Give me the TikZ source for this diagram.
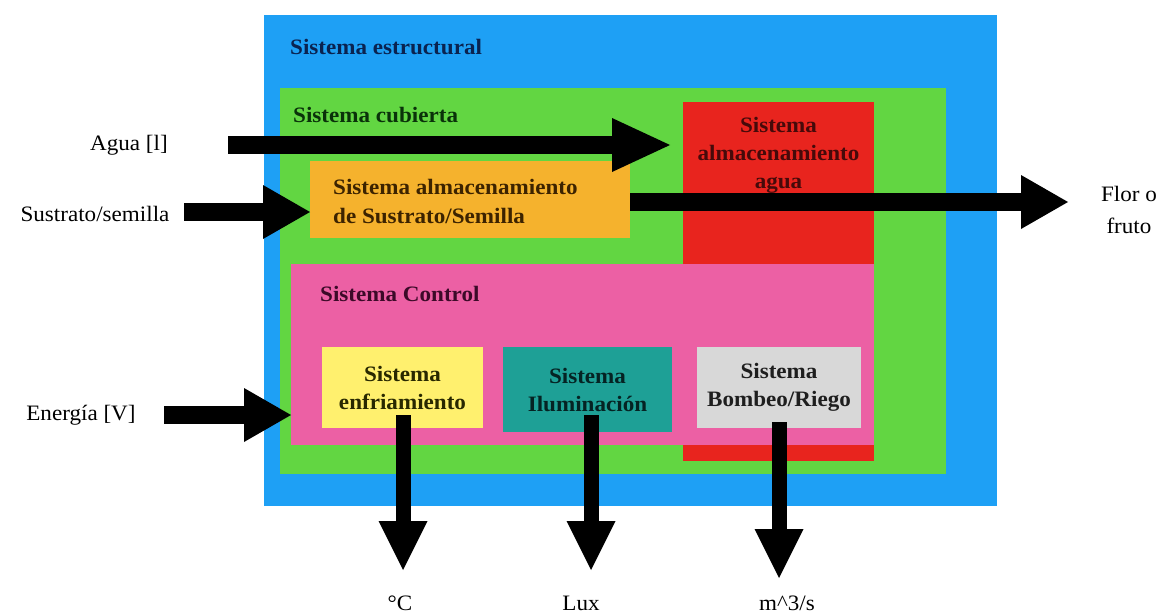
\documentclass[tikz,border=0pt]{standalone}
\usepackage{fontspec}
\setmainfont{Liberation Serif}[FakeStretch=1.05]
\usetikzlibrary{arrows.meta}
\definecolor{cblue}{RGB}{30,160,245}
\definecolor{cgreen}{RGB}{98,214,66}
\definecolor{cred}{RGB}{232,36,30}
\definecolor{corange}{RGB}{245,178,45}
\definecolor{cpink}{RGB}{236,96,164}
\definecolor{cyellow}{RGB}{255,240,110}
\definecolor{cteal}{RGB}{30,160,150}
\definecolor{cgray}{RGB}{216,216,216}
\definecolor{tblue}{RGB}{10,35,80}
\definecolor{tgreen}{RGB}{10,50,10}
\definecolor{tred}{RGB}{70,10,10}
\definecolor{torange}{RGB}{60,35,0}
\definecolor{tpink}{RGB}{60,10,40}
\definecolor{tyellow}{RGB}{40,40,0}
\definecolor{tteal}{RGB}{5,35,35}
\definecolor{tgray}{RGB}{30,30,30}
\begin{document}
\begin{tikzpicture}[x=1pt,y=-1pt,
  box/.style={draw=none,inner sep=0pt,outer sep=0pt,anchor=north west},
  lbl/.style={inner sep=0pt,align=center,font=\fontsize{22}{32}\selectfont},
  ttl/.style={inner sep=0pt,align=center,font=\fontsize{22}{28}\selectfont\bfseries},
  harrow/.style={line width=18pt,-{Triangle[length=#1,width=54pt,line width=0pt]}},
  harrow/.default=47pt,
  varrow/.style={line width=15pt,-{Triangle[length=49pt,width=49pt,line width=0pt]}}]
\useasboundingbox (0,0) rectangle (1163,616);
% boxes
\node[box,fill=cblue,minimum width=733pt,minimum height=491pt] (blue) at (264,15) {};
\node[box,fill=cgreen,minimum width=666pt,minimum height=386pt] (green) at (280,88) {};
\node[box,fill=cred,minimum width=191pt,minimum height=359pt] (red) at (683,102) {};
\node[box,fill=corange,minimum width=320pt,minimum height=77pt] (orange) at (310,161) {};
\node[box,fill=cpink,minimum width=583pt,minimum height=181pt] (pink) at (291,264) {};
\node[box,fill=cyellow,minimum width=161pt,minimum height=81pt] (yellow) at (322,347) {};
\node[box,fill=cteal,minimum width=169pt,minimum height=85pt] (teal) at (503,347) {};
\node[box,fill=cgray,minimum width=164pt,minimum height=81pt] (gray) at (697,347) {};
% box titles
\node[ttl,text=tblue,anchor=west] (tblueT) at (290,47) {Sistema estructural};
\node[ttl,text=tgreen,anchor=west] (tgreenT) at (293,115) {Sistema cubierta};
\node[ttl,text=tred] (tredT) at ([yshift=-53pt]red.north) {Sistema\\almacenamiento\\agua};
\node[ttl,text=torange,anchor=west,align=left,font=\fontsize{22}{29}\selectfont\bfseries] (torangeT) at (333,201) {Sistema almacenamiento\\de Sustrato/Semilla};
\node[ttl,text=tpink,anchor=west] (tpinkT) at (320,294) {Sistema Control};
\node[ttl,text=tyellow] (tyellowT) at (yellow) {Sistema\\enfriamiento};
\node[ttl,text=tteal] (ttealT) at (teal) {Sistema\\Iluminación};
\node[ttl,text=tgray] (tgrayT) at (gray) {Sistema\\Bombeo/Riego};
% outside labels
\node[lbl] (agua) at (129,145) {Agua [l]};
\node[lbl] (sust) at (95,214) {Sustrato/semilla};
\node[lbl] (ener) at (81,415) {Energía [V]};
\node[lbl] (flor) at (1129,210) {Flor o\\fruto};
\node[lbl] (degC) at (400,603) {°C};
\node[lbl] (lux) at (581,603) {Lux};
\node[lbl] (m3) at (787,603) {m\textasciicircum 3/s};
% arrow ends
\coordinate (aguaS) at (228,145);
\coordinate (sustS) at (184,212);
\coordinate (florE) at (1068,202);
\coordinate (enerS) at (164,415);
\coordinate (cS) at (403,415);
\coordinate (cE) at (403,570);
\coordinate (luxS) at (591,415);
\coordinate (luxE) at (591,570);
\coordinate (mS) at (779,422);
\coordinate (mE) at (779,578);
% arrows
\draw[harrow=58pt,shorten >=13pt] (aguaS) -- (aguaS -| red.west);
\draw[harrow] (sustS) -- (sustS -| orange.west);
\draw[harrow] (orange.east |- florE) -- (florE);
\draw[harrow] (enerS) -- (enerS -| pink.west);
\draw[varrow] (cS) -- (cE);
\draw[varrow] (luxS) -- (luxE);
\draw[varrow] (mS) -- (mE);
\end{tikzpicture}
\end{document}
